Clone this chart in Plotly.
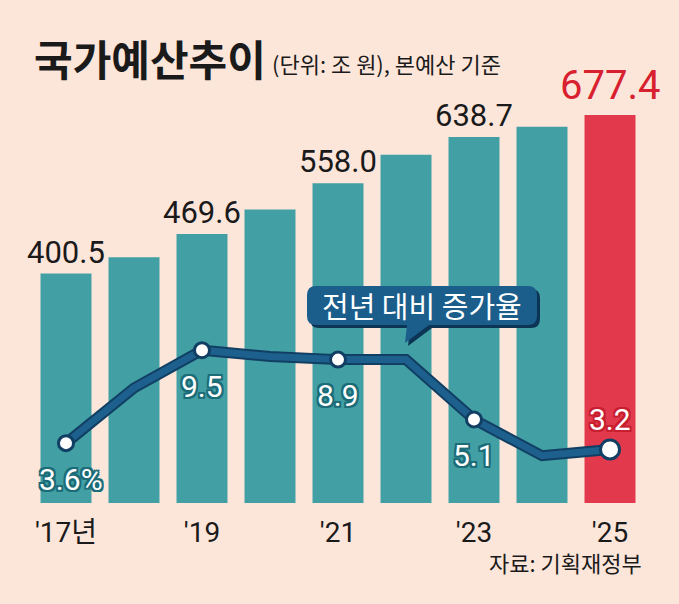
import plotly.graph_objects as go

years = [2017, 2018, 2019, 2020, 2021, 2022, 2023, 2024, 2025]
budget = [400.5, 428.8, 469.6, 512.3, 558.0, 607.7, 638.7, 656.6, 677.4]
growth = [3.6, 7.1, 9.5, 9.1, 8.9, 8.9, 5.1, 2.8, 3.2]
budget_labels = ["400.5", "", "469.6", "", "558.0", "", "638.7", "", "677.4"]
growth_labels = ["3.6%", "", "9.5", "", "8.9", "", "5.1", "", "3.2"]
tick_years = [2017, 2019, 2021, 2023, 2025]
tick_text = ["'17년", "'19", "'21", "'23", "'25"]

title = "국가예산추이"
subtitle = "(단위: 조 원), 본예산 기준"
callout = "전년 대비 증가율"
source = "자료: 기획재정부"

BG = "#fce6da"
TEAL = "#42a0a5"
RED = "#e23a4c"
NAVY = "#1d5f8d"
NAVY_DARK = "#113f63"
NUM_FONT = "Liberation Sans Narrow, Roboto, Noto Sans CJK KR, sans-serif"
KR_FONT = "Noto Sans CJK KR, sans-serif"

W, H = 679, 604
ML, MR, MT, MB = 32, 35, 102, 101
PW, PH = W - ML - MR, H - MT - MB

bar_colors = [RED if y == years[-1] else TEAL for y in years]

fig = go.Figure()
fig.add_trace(go.Bar(
    x=years, y=budget, marker=dict(color=bar_colors, line=dict(width=0)),
    yaxis="y", hoverinfo="skip", showlegend=False,
))
fig.add_trace(go.Scatter(
    x=years, y=growth, yaxis="y2", mode="lines",
    line=dict(color=NAVY_DARK, width=11), hoverinfo="skip", showlegend=False,
))
fig.add_trace(go.Scatter(
    x=years, y=growth, yaxis="y2", mode="lines",
    line=dict(color=NAVY, width=7), hoverinfo="skip", showlegend=False,
))
mx = [y for y, l in zip(years, growth_labels) if l]
my = [g for g, l in zip(growth, growth_labels) if l]
msize = [19 if y == years[-1] else 15 for y in mx]
fig.add_trace(go.Scatter(
    x=mx, y=my, yaxis="y2", mode="markers",
    marker=dict(color="white", size=msize, opacity=1, line=dict(color=NAVY_DARK, width=3)),
    hoverinfo="skip", showlegend=False, cliponaxis=False,
))

annotations = []
for y, v, lab in zip(years, budget, budget_labels):
    if not lab:
        continue
    last = y == years[-1]
    annotations.append(dict(
        x=y, y=v, xref="x", yref="y", text=lab, showarrow=False,
        yanchor="bottom", yshift=4 if last else 1,
        font=dict(family=NUM_FONT, size=40 if last else 31,
                  color="#d8202f" if last else "#1a1a1a"),
    ))
for y, g, lab in zip(years, growth, growth_labels):
    if not lab:
        continue
    last = y == years[-1]
    outline = "#c81e30" if last else "#1c6c78"
    sh = ", ".join(f"{dx}px {dy}px 0 {outline}" for dx in (-2, 0, 2) for dy in (-2, 0, 2) if dx or dy)
    annotations.append(dict(
        x=y + (0.08 if y == years[0] else 0), y=g, xref="x", yref="y2", text=lab, showarrow=False,
        yanchor="middle", yshift=30 if last else -36,
        font=dict(family=NUM_FONT, size=30, color="white", shadow=sh),
    ))


def px(x):
    return (x - ML) / PW


def py(y):
    return (MT + PH - y) / PH


annotations += [
    dict(xref="paper", yref="paper", x=px(32), y=py(57), text=f"<b>{title}</b>",
         showarrow=False, xanchor="left", yanchor="middle",
         font=dict(family=KR_FONT, size=42, color="#1a1a1a")),
    dict(xref="paper", yref="paper", x=px(270), y=py(63), text=subtitle,
         showarrow=False, xanchor="left", yanchor="middle",
         font=dict(family=KR_FONT, size=22, color="#1a1a1a")),
    dict(xref="paper", yref="paper", x=px(644), y=py(562), text=source,
         showarrow=False, xanchor="right", yanchor="middle",
         font=dict(family=KR_FONT, size=22, color="#1a1a1a")),
    dict(xref="paper", yref="paper", x=px(422), y=py(305), text=callout,
         showarrow=False, xanchor="center", yanchor="middle",
         font=dict(family=KR_FONT, size=29, color="white")),
]


def rounded_box(x0, y0, x1, y1, r, tip_x0, tip_x1, tip_x, tip_y):
    def P(x, y):
        return f"{px(x):.5f},{py(y):.5f}"
    return (f"M {P(x0 + r, y0)} L {P(x1 - r, y0)} Q {P(x1, y0)} {P(x1, y0 + r)} "
            f"L {P(x1, y1 - r)} Q {P(x1, y1)} {P(x1 - r, y1)} "
            f"L {P(tip_x1, y1)} L {P(tip_x, tip_y)} L {P(tip_x0, y1)} "
            f"L {P(x0 + r, y1)} Q {P(x0, y1)} {P(x0, y1 - r)} "
            f"L {P(x0, y0 + r)} Q {P(x0, y0)} {P(x0 + r, y0)} Z")


shapes = [
    dict(type="path", xref="paper", yref="paper",
         path=rounded_box(310, 289, 540, 328, 9, 410, 432, 408, 346),
         fillcolor="#0c3555", line=dict(width=0), layer="above"),
    dict(type="path", xref="paper", yref="paper",
         path=rounded_box(307, 286, 537, 325, 9, 407, 429, 405, 343),
         fillcolor="#1b5d8b", line=dict(width=0), layer="above"),
]

fig.update_layout(
    width=W, height=H,
    margin=dict(l=ML, r=MR, t=MT, b=MB),
    paper_bgcolor=BG, plot_bgcolor=BG,
    bargap=0.25,
    xaxis=dict(tickmode="array", tickvals=tick_years, ticktext=tick_text,
               range=[2016.5, 2025.5], showgrid=False, zeroline=False, showline=False,
               ticks="", ticklabelstandoff=10,
               tickfont=dict(family=NUM_FONT, size=28, color="#1a1a1a")),
    yaxis=dict(range=[0, 700], visible=False, fixedrange=True),
    yaxis2=dict(range=[-0.2, 25.25], overlaying="y", visible=False),
    annotations=annotations,
    shapes=shapes,
)

fig.write_html("out.html", config={"displayModeBar": False},
               post_script="document.body.style.margin='0px';")
